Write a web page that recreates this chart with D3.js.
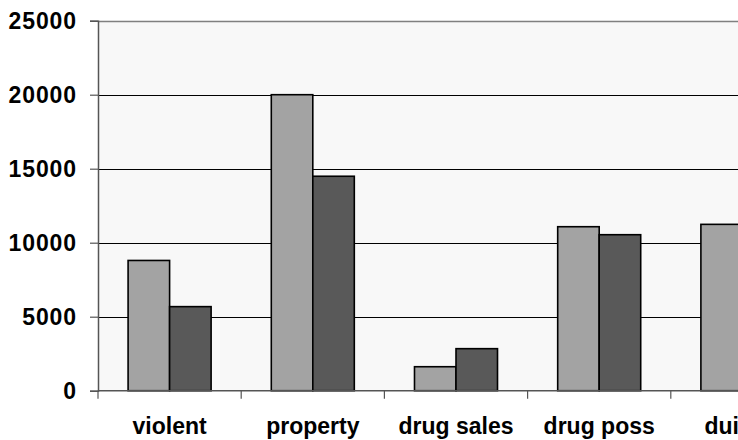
<!DOCTYPE html>
<html>
<head>
<meta charset="utf-8">
<script src="https://cdn.jsdelivr.net/npm/d3@7"></script>
<style>
  html, body { margin: 0; padding: 0; background: #ffffff; }
  svg { display: block; }
  text { font-family: "Liberation Sans", Arial, sans-serif; font-weight: bold; fill: #000; }
</style>
</head>
<body>
<svg id="chart" width="738" height="440"></svg>
<script>
// ---- data ----
const categories = ["violent", "property", "drug sales", "drug poss", "dui"];
const seriesNames = ["series1", "series2"];
const series1 = [8800, 20000, 1620, 11080, 11240];
const series2 = [5680, 14490, 2840, 10540, 9500];
const yTicks = [0, 5000, 10000, 15000, 20000, 25000];

// ---- layout ----
const W = 738, H = 440;
const plotLeft = 98, plotTop = 20.7, plotBottom = 390.7;
const catStep = 143.2;
const plotRight = plotLeft + catStep * categories.length;

const svg = d3.select("#chart");

const x = d3.scaleBand().domain(categories).range([plotLeft, plotRight]).paddingInner(0).paddingOuter(0);
const xs = d3.scaleBand().domain(seriesNames).range([0, x.bandwidth()]).paddingInner(0).paddingOuter(0.725);
const y = d3.scaleLinear().domain([0, 25000]).range([plotBottom, plotTop]);

const fills = { series1: "#a3a3a3", series2: "#595959" };

// plot area background
svg.append("rect")
  .attr("x", plotLeft).attr("y", plotTop)
  .attr("width", plotRight - plotLeft).attr("height", plotBottom - plotTop)
  .attr("fill", "#f8f8f8");

// gridlines
svg.append("g").selectAll("line")
  .data(yTicks.filter(d => d > 0 && d < 25000))
  .join("line")
  .attr("x1", plotLeft).attr("x2", plotRight)
  .attr("y1", d => Math.round(y(d)) + 0.5).attr("y2", d => Math.round(y(d)) + 0.5)
  .attr("stroke", "#000").attr("stroke-width", 1);

// top border of plot area
svg.append("line")
  .attr("x1", plotLeft).attr("x2", plotRight)
  .attr("y1", Math.round(y(25000)) + 0.5).attr("y2", Math.round(y(25000)) + 0.5)
  .attr("stroke", "#808080").attr("stroke-width", 1.5);

// bars
const data = [];
categories.forEach((c, i) => {
  data.push({ cat: c, s: "series1", v: series1[i] });
  data.push({ cat: c, s: "series2", v: series2[i] });
});
svg.append("g").selectAll("rect")
  .data(data)
  .join("rect")
  .attr("x", d => x(d.cat) + xs(d.s))
  .attr("y", d => y(d.v))
  .attr("width", xs.bandwidth())
  .attr("height", d => y(0) - y(d.v))
  .attr("fill", d => fills[d.s])
  .attr("stroke", "#000")
  .attr("stroke-width", 1.6);

// y axis
const yAxis = d3.axisLeft(y).tickValues(yTicks).tickSize(8).tickPadding(13).tickFormat(d3.format("d"));
const gy = svg.append("g").attr("transform", `translate(${plotLeft},0)`).call(yAxis);
gy.select(".domain").attr("stroke", "#555").attr("stroke-width", 1.5);
gy.selectAll(".tick line").attr("stroke", "#555").attr("stroke-width", 1.2);
gy.selectAll(".tick text")
  .attr("font-size", 23).attr("font-family", "Liberation Sans, Arial, sans-serif")
  .attr("letter-spacing", 0.9)
  .attr("font-weight", "bold").attr("fill", "#000");

// x axis line and tick marks at category boundaries
const boundaries = categories.map(c => x(c)).concat([plotRight]);
svg.append("line")
  .attr("x1", plotLeft).attr("x2", plotRight)
  .attr("y1", y(0)).attr("y2", y(0))
  .attr("stroke", "#555").attr("stroke-width", 1.5);
svg.append("g").selectAll("line")
  .data(boundaries)
  .join("line")
  .attr("x1", d => d).attr("x2", d => d)
  .attr("y1", y(0)).attr("y2", y(0) + 8)
  .attr("stroke", "#555").attr("stroke-width", 1.2);

// category labels
const labels = svg.append("g").selectAll("text")
  .data(categories)
  .join("text")
  .attr("x", d => x(d) + x.bandwidth() / 2)
  .attr("y", 434)
  .attr("text-anchor", "middle")
  .attr("font-size", 23)
  .text(d => d);
// keep labels inside the visible width
labels.each(function() {
  const bb = this.getBBox();
  if (bb.x + bb.width > W + 1) {
    d3.select(this).attr("x", W + 1 - bb.width / 2);
  }
});
</script>
</body>
</html>
